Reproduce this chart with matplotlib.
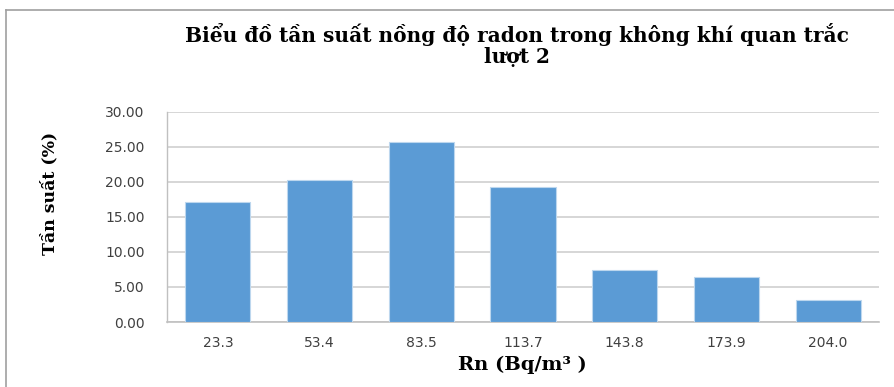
import matplotlib
matplotlib.use("Agg")
import matplotlib.pyplot as plt
from matplotlib.lines import Line2D

# Radon concentration bins (Bq/m3) and their frequency (%)
categories = ["23.3", "53.4", "83.5", "113.7", "143.8", "173.9", "204.0"]
frequency = [17.1, 20.3, 25.7, 19.3, 7.4, 6.4, 3.2]
y_ticks = [0, 5, 10, 15, 20, 25, 30]

W, H = 895, 387
fig = plt.figure(figsize=(W / 100, H / 100), dpi=100)
fig.patch.set_facecolor("white")

# Plot area in pixel coordinates
left, right, top, bottom = 167, 879, 111.5, 322
ax = fig.add_axes([left / W, 1 - bottom / H, (right - left) / W, (bottom - top) / H])

x = list(range(len(categories)))
ax.bar(x, frequency, width=0.64, color="#5B9BD5", edgecolor="#BDD7EE",
       linewidth=0.8, zorder=3)

tick_font = dict(fontfamily="DejaVu Sans", fontsize=10, color="#404040")
ax.set_xlim(-0.5, len(categories) - 0.5)
ax.set_ylim(0, 30)
ax.set_yticks(y_ticks)
ax.set_yticklabels([f"{v:.2f}" for v in y_ticks], **tick_font)
ax.set_xticks(x)
ax.set_xticklabels(categories, **tick_font)

ax.yaxis.grid(True, color="#D0D0D0", linewidth=1.2, zorder=0)
ax.set_axisbelow(True)
for s in ["top", "right"]:
    ax.spines[s].set_visible(False)
ax.spines["left"].set_color("#C0C0C0")
ax.spines["bottom"].set_color("#C0C0C0")
ax.spines["left"].set_linewidth(1.0)
ax.spines["bottom"].set_linewidth(1.2)
ax.tick_params(axis="both", length=0)
ax.tick_params(axis="y", pad=16)
ax.tick_params(axis="x", pad=10)

serif = "DejaVu Serif"
fig.text(517 / W, 1 - 35 / H, "Biểu đồ tần suất nồng độ radon trong không khí quan trắc",
         ha="center", va="center", fontsize=14.5, fontweight="bold", family=serif)
fig.text(517 / W, 1 - 57 / H, "lượt 2",
         ha="center", va="center", fontsize=14.5, fontweight="bold", family=serif)
fig.text(522 / W, 1 - 365 / H, "Rn (Bq/m³ )",
         ha="center", va="center", fontsize=14, fontweight="bold", family=serif)
fig.text(50 / W, 1 - 193 / H, "Tần suất (%)", rotation=90,
         ha="center", va="center", fontsize=12.5, fontweight="bold", family=serif)

# Outer chart frame (top and left edges)
fig.add_artist(Line2D([6 / W, 6 / W], [0, 1 - 10 / H], transform=fig.transFigure,
                      color="#A0A0A0", linewidth=1.2))
fig.add_artist(Line2D([6 / W, 1], [1 - 10 / H, 1 - 10 / H], transform=fig.transFigure,
                      color="#A0A0A0", linewidth=1.2))

fig.savefig("out.png", dpi=100)
